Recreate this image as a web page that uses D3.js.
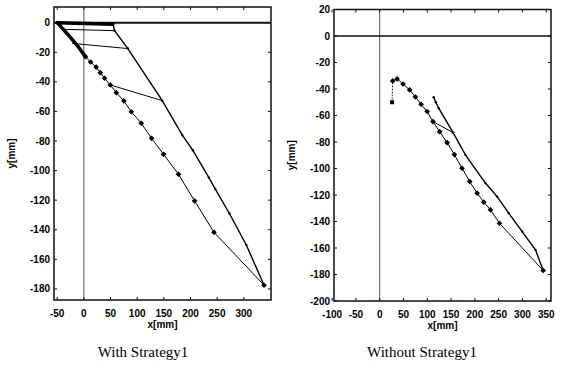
<!DOCTYPE html>
<html>
<head>
<meta charset="utf-8">
<script src="https://cdn.jsdelivr.net/npm/d3@7"></script>
<style>
  body { margin: 0; background: #fff; }
  .tick-label { font-family: 'Liberation Sans Narrow', 'Arial Narrow', sans-serif; font-weight: bold; font-size: 10px; }
  .axis-title { font-family: 'Liberation Sans Narrow', 'Arial Narrow', sans-serif; font-weight: bold; font-size: 10px; }
  .caption { font-family: 'Liberation Serif', serif; font-size: 15px; }
</style>
</head>
<body>
<div id="chart"></div>
<script>
// ---- data: panel 1 (With Strategy1) ----
const leftXTicks = [-50, 0, 50, 100, 150, 200, 250, 300];
const leftYTicks = [0, -20, -40, -60, -80, -100, -120, -140, -160, -180];
// robot trajectory (marked points)
const leftRobot = [
  [3, -23], [12.6, -26.6], [23, -30], [30.8, -33.8], [38.8, -37.6], [49.5, -42.1],
  [60.8, -47.3], [75, -52.9], [88.9, -60.2], [107.7, -68], [127, -78.2], [149.5, -89],
  [177.5, -102.5], [207.7, -120.5], [244, -141.7], [338, -177.5]
];
// start band (overlapping re-planned paths)
const leftStartDiag = [[-50, 0], [-30, -8], [-12, -15.5], [3, -23]];
const leftStartTop = [[-50, 0], [54.4, -1]];
// target trajectory
const leftTarget = [
  [54.4, -1], [57.7, -5.4], [82.5, -17.5], [147, -52.7], [184.6, -76], [204.5, -86.3],
  [234.5, -104.8], [246.5, -112.5], [273, -129], [304.7, -150.3], [338, -177.5]
];
// sight lines robot -> target
const leftLinks = [
  [[-36, -4.5], [57.7, -5.4]],
  [[-22, -14], [82.5, -17.5]],
  [[49.5, -42.1], [147, -52.7]]
];

// ---- data: panel 2 (Without Strategy1) ----
const rightXTicks = [-100, -50, 0, 50, 100, 150, 200, 250, 300, 350];
const rightYTicks = [20, 0, -20, -40, -60, -80, -100, -120, -140, -160, -180, -200];
const rightRobotStart = [[26, -50], [27.3, -33.9]];
const rightRobot = [
  [27.3, -33.9], [36.6, -32.4], [49, -36.2], [63, -40.7], [75, -46], [87, -51.5],
  [99.7, -57], [112, -64.6], [126, -72.2], [141.7, -80.5], [157, -89.5], [173, -99.8],
  [189.2, -109.9], [204.8, -118.6], [218.7, -125.4], [232.8, -131.2], [251.7, -141.3],
  [343.6, -177]
];
const rightTarget = [
  [113.5, -46.2], [118, -50], [124, -54.5], [154.3, -72.9], [180.2, -89.7], [222.2, -111],
  [246.8, -121.2], [271.2, -133.7], [299.4, -147.6], [327.4, -161.4], [343.6, -177]
];
const rightLinks = [
  [[112, -64.6], [154.3, -72.9]]
];

const svg = d3.select('#chart').append('svg')
  .attr('width', 563).attr('height', 367)
  .style('background', '#fff');

function drawPanel(p) {
  const x = d3.scaleLinear().domain(p.xDomain).range([p.left, p.right]);
  const y = d3.scaleLinear().domain(p.yDomain).range([p.bottom, p.top]);
  const g = svg.append('g');
  const line = d3.line().x(d => x(d[0])).y(d => y(d[1]));

  // reference lines x=0, y=0
  g.append('line')
    .attr('x1', x(0)).attr('x2', x(0)).attr('y1', p.top).attr('y2', p.bottom)
    .attr('stroke', '#444').attr('stroke-width', 0.9);
  g.append('line')
    .attr('x1', p.left).attr('x2', p.right).attr('y1', y(0)).attr('y2', y(0))
    .attr('stroke', '#111').attr('stroke-width', p.zeroWidth);

  // frame
  g.append('rect')
    .attr('x', p.left).attr('y', p.top)
    .attr('width', p.right - p.left).attr('height', p.bottom - p.top)
    .attr('fill', 'none').attr('stroke', '#111').attr('stroke-width', 1.5);

  // inner ticks on all four sides
  p.xTicks.forEach(t => {
    g.append('line').attr('x1', x(t)).attr('x2', x(t)).attr('y1', p.bottom).attr('y2', p.bottom - 3)
      .attr('stroke', '#111');
    g.append('line').attr('x1', x(t)).attr('x2', x(t)).attr('y1', p.top).attr('y2', p.top + 3)
      .attr('stroke', '#111');
    g.append('text').attr('class', 'tick-label')
      .attr('x', x(t)).attr('y', p.bottom + 17).attr('text-anchor', 'middle')
      .text(t);
  });
  p.yTicks.forEach(t => {
    g.append('line').attr('x1', p.left).attr('x2', p.left + 3).attr('y1', y(t)).attr('y2', y(t))
      .attr('stroke', '#111');
    g.append('line').attr('x1', p.right).attr('x2', p.right - 3).attr('y1', y(t)).attr('y2', y(t))
      .attr('stroke', '#111');
    g.append('text').attr('class', 'tick-label')
      .attr('x', p.left - 4).attr('y', y(t) + 3.5).attr('text-anchor', 'end')
      .text(t);
  });

  // thick start bands
  (p.bands || []).forEach(b => {
    g.append('path').attr('d', line(b)).attr('fill', 'none')
      .attr('stroke', '#000').attr('stroke-width', 3.5).attr('stroke-linecap', 'round');
  });
  // dotted start
  if (p.robotStart) {
    g.append('path').attr('d', line(p.robotStart)).attr('fill', 'none')
      .attr('stroke', '#000').attr('stroke-width', 1).attr('stroke-dasharray', '1.5 1.5');
    g.append('rect')
      .attr('x', x(p.robotStart[0][0]) - 2).attr('y', y(p.robotStart[0][1]) - 2)
      .attr('width', 4).attr('height', 4).attr('fill', '#000');
  }

  // sight lines
  p.links.forEach(l => {
    g.append('path').attr('d', line(l)).attr('fill', 'none')
      .attr('stroke', '#000').attr('stroke-width', 1);
  });

  // target trajectory
  g.append('path').attr('d', line(p.target)).attr('fill', 'none')
    .attr('stroke', '#000').attr('stroke-width', 1.4);
  g.selectAll(null).data(p.target).join('circle')
    .attr('cx', d => x(d[0])).attr('cy', d => y(d[1])).attr('r', 1.2).attr('fill', '#000');

  // robot trajectory with markers
  g.append('path').attr('d', line(p.robot)).attr('fill', 'none')
    .attr('stroke', '#000').attr('stroke-width', 1);
  g.selectAll(null).data(p.robot).join('rect')
    .attr('x', d => x(d[0]) - 2).attr('y', d => y(d[1]) - 2)
    .attr('width', 4).attr('height', 4).attr('fill', '#000')
    .attr('transform', d => `rotate(45 ${x(d[0])} ${y(d[1])})`);

  // axis titles
  g.append('text').attr('class', 'axis-title')
    .attr('x', (p.left + p.right) / 2).attr('y', p.bottom + 28).attr('text-anchor', 'middle')
    .text('x[mm]');
  g.append('text').attr('class', 'axis-title')
    .attr('transform', `translate(${p.left - 39},${(p.top + p.bottom) / 2}) rotate(-90)`)
    .attr('text-anchor', 'middle')
    .text('y[mm]');

  g.append('text').attr('class', 'caption')
    .attr('x', p.captionX).attr('y', 357).attr('text-anchor', 'middle')
    .text(p.caption);
}

drawPanel({
  xDomain: [-56, 351], yDomain: [-187.5, 10.6],
  left: 54, right: 271, top: 7, bottom: 300,
  xTicks: leftXTicks, yTicks: leftYTicks,
  robot: leftRobot, target: leftTarget, links: leftLinks,
  bands: [leftStartDiag, leftStartTop],
  zeroWidth: 2,
  caption: 'With Strategy1', captionX: 143
});

drawPanel({
  xDomain: [-96, 360], yDomain: [-200, 20],
  left: 334, right: 551, top: 9.5, bottom: 301,
  xTicks: rightXTicks, yTicks: rightYTicks,
  robot: rightRobot, target: rightTarget, links: rightLinks,
  robotStart: rightRobotStart,
  zeroWidth: 1.5,
  caption: 'Without Strategy1', captionX: 422
});
</script>
</body>
</html>
